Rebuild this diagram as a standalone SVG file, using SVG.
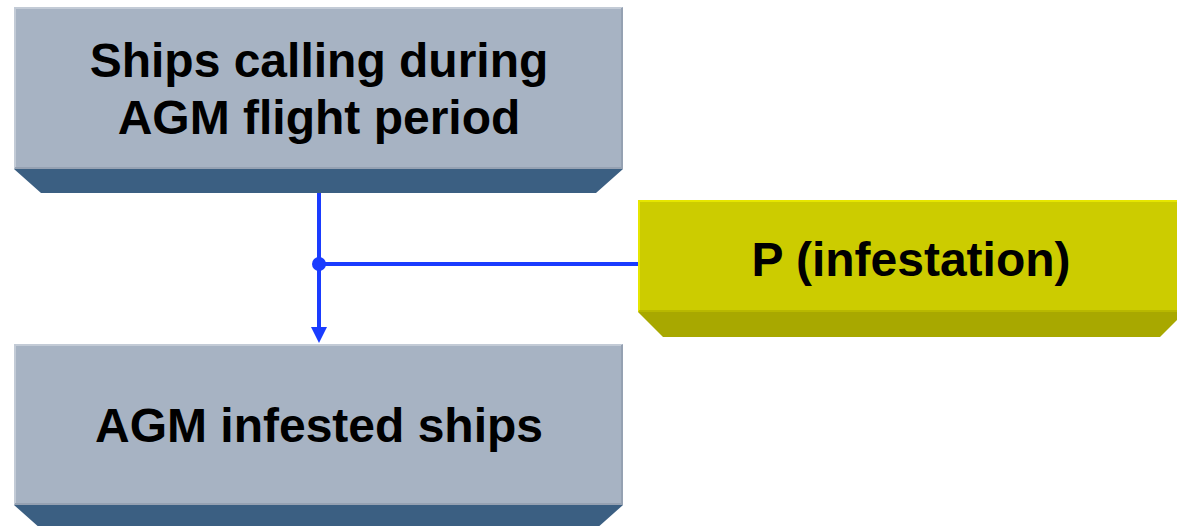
<svg xmlns="http://www.w3.org/2000/svg" width="1177" height="526" viewBox="0 0 1177 526">
  <defs>
    <style>
      .face-grey { fill: #a7b3c3; }
      .band-grey { fill: #3b5f82; }
      .face-yel { fill: #cccc00; }
      .band-yel { fill: #a8a800; }
      .hi-grey { stroke: #c3cbd6; stroke-width: 2; fill: none; }
      .lo-grey { stroke: #95a1b2; stroke-width: 2; fill: none; }
      .hi-yel { stroke: #e6e600; stroke-width: 2; fill: none; }
      .lo-yel { stroke: #b8b800; stroke-width: 2; fill: none; }
      .label { font-family: "Liberation Sans", Arial, sans-serif; font-weight: bold; font-size: 48px; fill: #000; text-anchor: middle; }
      .conn { stroke: #1a3cff; stroke-width: 4; fill: none; }
    </style>
  </defs>

  <!-- Ships calling during flight period -->
  <g id="node-ships">
    <polygon class="band-grey" points="14,169 623,169 596,193 41,193"/>
    <rect class="face-grey" x="14" y="7" width="609" height="162"/>
    <polyline class="hi-grey" points="15,168 15,8 622,8"/>
    <polyline class="lo-grey" points="622,8 622,168 15,168"/>
    <text class="label" x="319" y="77">Ships calling during</text>
    <text class="label" x="319" y="134">AGM flight period</text>
  </g>

  <!-- Probability of infestation -->
  <g id="node-p">
    <polygon class="band-yel" points="638,312 1185,312 1160,337 663,337"/>
    <rect class="face-yel" x="638" y="200" width="547" height="112"/>
    <polyline class="hi-yel" points="639,311 639,201 1185,201"/>
    <line class="lo-yel" x1="639" y1="311" x2="1185" y2="311"/>
    <text class="label" x="911" y="276">P (infestation)</text>
  </g>

  <!-- Infested ships -->
  <g id="node-infested">
    <polygon class="band-grey" points="14,505 623,505 596,529 41,529"/>
    <rect class="face-grey" x="14" y="344" width="609" height="161"/>
    <polyline class="hi-grey" points="15,504 15,345 622,345"/>
    <polyline class="lo-grey" points="622,345 622,504 15,504"/>
    <text class="label" x="319" y="442">AGM infested ships</text>
  </g>

  <!-- Connectors -->
  <g id="connectors">
    <line class="conn" x1="319" y1="193" x2="319" y2="328"/>
    <path d="M311,327 L327,327 L319,343 Z" fill="#1a3cff"/>
    <line class="conn" x1="319" y1="264" x2="638" y2="264"/>
    <circle cx="319" cy="264" r="7" fill="#1a3cff"/>
  </g>
</svg>
